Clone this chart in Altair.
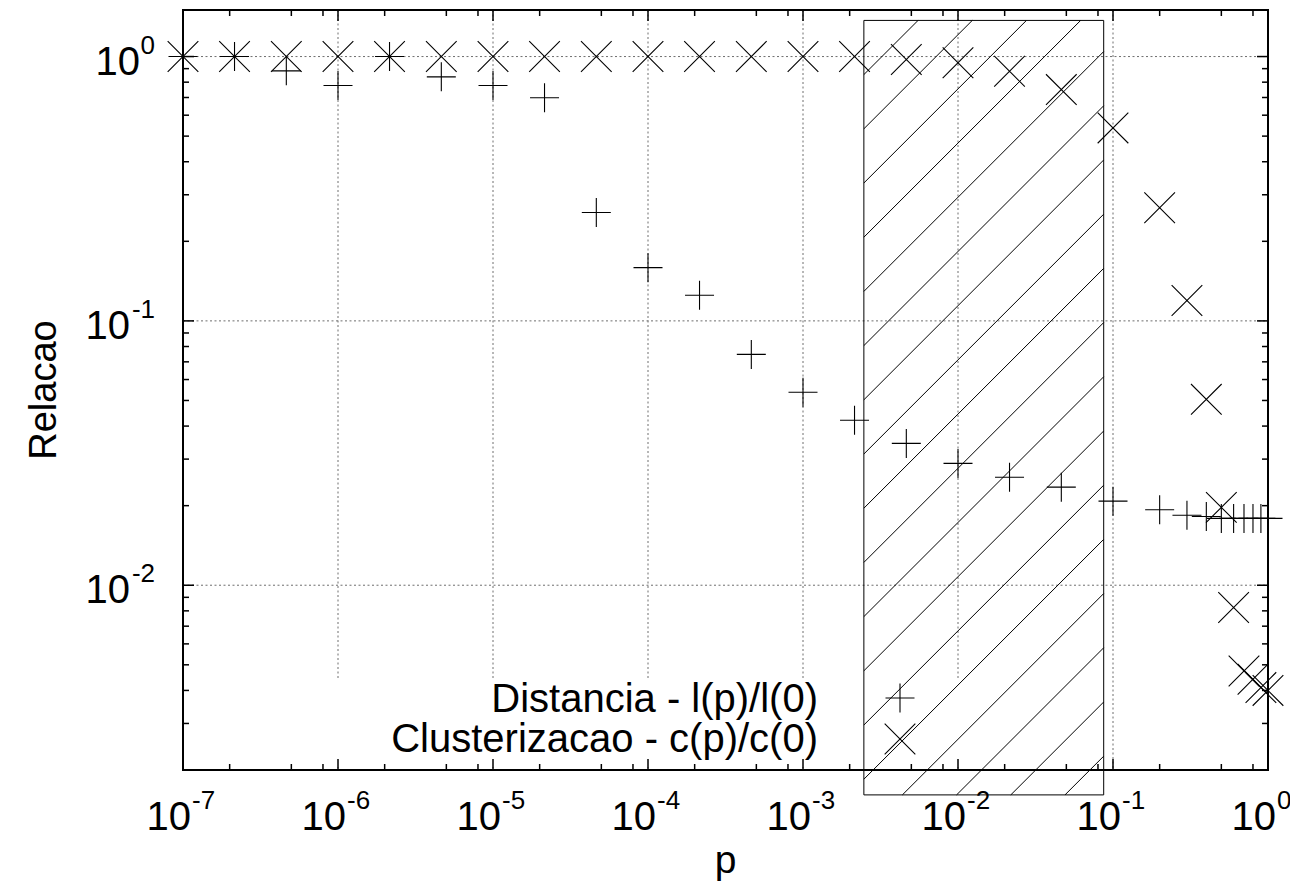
import math
import altair as alt
import pandas as pd

# ---------------- data ----------------
p_vals = [1e-7, 2.15e-7, 4.64e-7, 1e-6, 2.15e-6, 4.64e-6, 1e-5, 2.15e-5, 4.64e-5,
          1e-4, 2.15e-4, 4.64e-4, 1e-3, 2.15e-3, 4.64e-3, 1e-2, 2.15e-2, 4.64e-2,
          0.1, 0.2, 0.3, 0.4, 0.5, 0.6, 0.7, 0.8, 0.9, 1.0]
distancia = [1.0, 1.0, 0.883, 0.777, 1.0, 0.838, 0.777, 0.698, 0.257, 0.159,
             0.125, 0.0747, 0.0537, 0.0421, 0.0344, 0.0289, 0.0256, 0.0235,
             0.0208, 0.0193, 0.0184, 0.0182, 0.0179, 0.0179, 0.0179, 0.0179,
             0.0179, 0.0179]
clusterizacao = [1.0, 1.0, 1.0, 1.0, 1.0, 1.0, 1.0, 1.0, 1.0, 1.0, 1.0, 1.0,
                 1.0, 1.0, 0.975, 0.947, 0.88, 0.75, 0.537, 0.268, 0.1195,
                 0.0505, 0.0197, 0.00824, 0.00474, 0.00441, 0.0041, 0.0040]
shade_p = [0.00247, 0.0871]
shade_r = [0.00161, 1.37]

x_decades = [1e-7, 1e-6, 1e-5, 1e-4, 1e-3, 1e-2, 1e-1, 1e0]
x_exps = ["-7", "-6", "-5", "-4", "-3", "-2", "-1", "0"]
y_decades = [1e-2, 1e-1, 1e0]
y_exps = ["-2", "-1", "0"]
x_minor_mult = [2, 5, 8]
y_minor_mult = [2, 3, 4, 5, 6, 7, 8, 9]
legend_labels = ["Distancia - l(p)/l(0)", "Clusterizacao - c(p)/c(0)"]
x_title = "p"
y_title = "Relacao"

# ---------------- layout / style ----------------
W, H = 1085, 760
X_DOM = [1e-7, 1.0]
Y_DOM = [0.002, 1.5]
FONT = "Liberation Sans"
PLUS = "M-1,0L1,0M0,-1L0,1"
CROSS = "M-1,-1L1,1M-1,1L1,-1"
HATCH_STEP = 54.2

xs = alt.Scale(type="log", domain=X_DOM, nice=False)
ys = alt.Scale(type="log", domain=Y_DOM, nice=False)

x_minor = [m * d for d in x_decades[:-1] for m in x_minor_mult]
y_minor = [m * d for d in (1e-3, 1e-2, 1e-1) for m in y_minor_mult
           if Y_DOM[0] < m * d < Y_DOM[1]]

# pixel <-> data helpers for the hatch pattern
lx0, lx1 = math.log10(X_DOM[0]), math.log10(X_DOM[1])
ly0, ly1 = math.log10(Y_DOM[0]), math.log10(Y_DOM[1])


def px(p):
    return W * (math.log10(p) - lx0) / (lx1 - lx0)


def py(r):
    return H * (ly1 - math.log10(r)) / (ly1 - ly0)


def inv_px(x):
    return 10 ** (lx0 + x / W * (lx1 - lx0))


def inv_py(y):
    return 10 ** (ly1 - y / H * (ly1 - ly0))


X0, X1 = px(shade_p[0]), px(shade_p[1])
Y0, Y1 = py(shade_r[1]), py(shade_r[0])
hatch = []
c = X0 + Y0 + HATCH_STEP
while c < X1 + Y1:
    xa = max(X0, c - Y1)
    xb = min(X1, c - Y0)
    hatch.append({"p1": inv_px(xa), "r1": inv_py(c - xa),
                  "p2": inv_px(xb), "r2": inv_py(c - xb)})
    c += HATCH_STEP
hatch_df = pd.DataFrame(hatch)

pts = pd.DataFrame({"p": p_vals, "d": distancia, "c": clusterizacao})
shade_df = pd.DataFrame({"p1": [shade_p[0]], "p2": [shade_p[1]],
                         "r1": [shade_r[0]], "r2": [shade_r[1]]})
xdec_df = pd.DataFrame({"v": x_decades, "e": x_exps})
ydec_df = pd.DataFrame({"v": y_decades, "e": y_exps})
xmin_df = pd.DataFrame({"v": x_minor})
ymin_df = pd.DataFrame({"v": y_minor})
xgrid_df = pd.DataFrame({"v": x_decades[1:-1]})

grid_style = dict(color="#6e6e6e", strokeDash=[2, 2.5], strokeWidth=1)

grid_v = alt.Chart(xgrid_df).mark_rule(**grid_style).encode(
    x=alt.X("v:Q", scale=xs, axis=None), y=alt.value(0), y2=alt.value(H))
grid_h = alt.Chart(ydec_df).mark_rule(**grid_style).encode(
    y=alt.Y("v:Q", scale=ys, axis=None), x=alt.value(0), x2=alt.value(W))

one = pd.DataFrame({"k": [0]})
key_box = alt.Chart(one).mark_rect(color="white").encode(
    x=alt.value(117), x2=alt.value(817), y=alt.value(668), y2=alt.value(757))

frame = alt.Chart(one).mark_rect(fill="transparent", stroke="black",
                                 strokeWidth=2).encode(
    x=alt.value(0), x2=alt.value(W), y=alt.value(0), y2=alt.value(H))

shade = alt.Chart(shade_df).mark_rect(fill="transparent", stroke="black",
                                      strokeWidth=1).encode(
    x=alt.X("p1:Q", scale=xs, axis=None), x2="p2:Q",
    y=alt.Y("r1:Q", scale=ys, axis=None), y2="r2:Q")
hatch_lines = alt.Chart(hatch_df).mark_rule(color="black", strokeWidth=1).encode(
    x=alt.X("p1:Q", scale=xs, axis=None), x2="p2:Q",
    y=alt.Y("r1:Q", scale=ys, axis=None), y2="r2:Q")

pt_style = dict(filled=False, color="black", strokeWidth=1.1, opacity=1)
dist_pts = alt.Chart(pts).mark_point(shape=PLUS, size=841, **pt_style).encode(
    x=alt.X("p:Q", scale=xs, axis=None), y=alt.Y("d:Q", scale=ys, axis=None))
clus_pts = alt.Chart(pts).mark_point(shape=CROSS, size=940, **pt_style).encode(
    x=alt.X("p:Q", scale=xs, axis=None), y=alt.Y("c:Q", scale=ys, axis=None))

tick_style = dict(color="black", strokeWidth=1.5)
xt = lambda df, a, b: alt.Chart(df).mark_rule(**tick_style).encode(
    x=alt.X("v:Q", scale=xs, axis=None), y=alt.value(a), y2=alt.value(b))
yt = lambda df, a, b: alt.Chart(df).mark_rule(**tick_style).encode(
    y=alt.Y("v:Q", scale=ys, axis=None), x=alt.value(a), x2=alt.value(b))
ticks = [xt(xdec_df, H, H - 11), xt(xdec_df, 0, 11),
         xt(xmin_df, H, H - 6), xt(xmin_df, 0, 6),
         yt(ydec_df, 0, 11), yt(ydec_df, W, W - 11),
         yt(ymin_df, 0, 6), yt(ymin_df, W, W - 6)]

base_txt = dict(font=FONT, color="black", baseline="alphabetic")
xlab_base = alt.Chart(xdec_df).mark_text(text="10", align="right", dx=8,
                                         fontSize=40, **base_txt).encode(
    x=alt.X("v:Q", scale=xs, axis=None), y=alt.value(H + 60))
xlab_exp = alt.Chart(xdec_df).mark_text(align="left", dx=9, fontSize=26,
                                        **base_txt).encode(
    x=alt.X("v:Q", scale=xs, axis=None), y=alt.value(H + 39), text="e:N")
ylab_base_neg = alt.Chart(ydec_df).transform_filter("datum.e != '0'").mark_text(
    text="10", align="right", dy=18, fontSize=40, **base_txt).encode(
    y=alt.Y("v:Q", scale=ys, axis=None), x=alt.value(-53))
ylab_base_0 = alt.Chart(ydec_df).transform_filter("datum.e == '0'").mark_text(
    text="10", align="right", dy=18, fontSize=40, **base_txt).encode(
    y=alt.Y("v:Q", scale=ys, axis=None), x=alt.value(-43))
ylab_exp = alt.Chart(ydec_df).mark_text(align="right", dy=-3, fontSize=26,
                                        **base_txt).encode(
    y=alt.Y("v:Q", scale=ys, axis=None), x=alt.value(-28), text="e:N")

xtitle = alt.Chart(one).mark_text(text=x_title, fontSize=39, align="center",
                                  **base_txt).encode(
    x=alt.value(W / 2), y=alt.value(H + 103))
ytitle = alt.Chart(one).mark_text(text=y_title, fontSize=38, align="center",
                                  angle=270, font=FONT, color="black",
                                  baseline="middle").encode(
    x=alt.value(-138), y=alt.value(H / 2))

leg1 = alt.Chart(one).mark_text(text=legend_labels[0], fontSize=40, align="right",
                                **base_txt).encode(x=alt.value(635), y=alt.value(702))
leg2 = alt.Chart(one).mark_text(text=legend_labels[1], fontSize=40, align="right",
                                **base_txt).encode(x=alt.value(635), y=alt.value(742))
leg1s = alt.Chart(one).mark_point(shape=PLUS, size=841, **pt_style).encode(
    x=alt.value(717), y=alt.value(688))
leg2s = alt.Chart(one).mark_point(shape=CROSS, size=940, **pt_style).encode(
    x=alt.value(717), y=alt.value(729))

chart = alt.layer(
    grid_v, grid_h, key_box, frame, shade, hatch_lines, dist_pts, clus_pts,
    *ticks,
    xlab_base, xlab_exp, ylab_base_neg, ylab_base_0, ylab_exp,
    xtitle, ytitle, leg1, leg2, leg1s, leg2s,
).properties(
    width=W, height=H,
    background="white",
    padding={"left": 175, "top": 2, "right": 22, "bottom": 113},
    autosize=alt.AutoSizeParams(type="none"),
).configure_view(stroke=None)

chart.save("out.html", embed_options={"renderer": "svg", "actions": False})
